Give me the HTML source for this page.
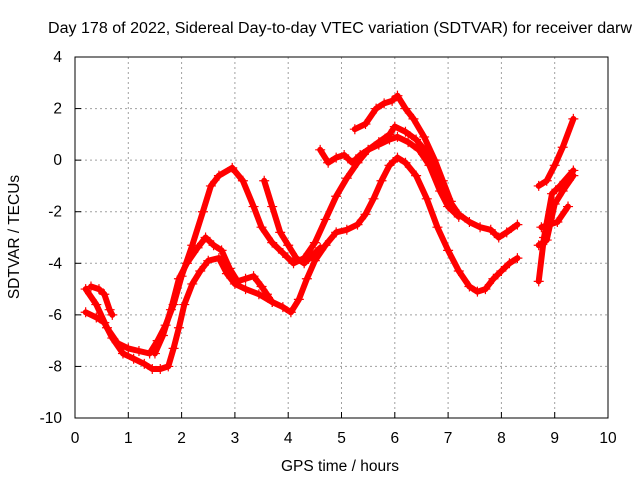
<!DOCTYPE html>
<html><head><meta charset="utf-8"><style>
body{margin:0;background:#fff}
svg text{font-family:"Liberation Sans",sans-serif;font-size:15.5px;fill:#000}
</style></head><body>
<svg id="chart" width="640" height="480" xmlns="http://www.w3.org/2000/svg">
<rect width="640" height="480" fill="#fff"/>
<text x="340" y="33" text-anchor="middle" textLength="584" lengthAdjust="spacingAndGlyphs">Day 178 of 2022, Sidereal Day-to-day VTEC variation (SDTVAR) for receiver darw</text>
<g id="grid"></g>
<g id="ticks"></g>
<rect x="75" y="57" width="533" height="361" fill="none" stroke="#000" stroke-width="1"/>
<g id="series"></g>
<text x="340" y="471" text-anchor="middle">GPS time / hours</text>
<text transform="translate(19,237) rotate(-90)" text-anchor="middle">SDTVAR / TECUs</text>
</svg>
<script>
const xTicks=[0,1,2,3,4,5,6,7,8,9,10];
const yTicks=[4,2,0,-2,-4,-6,-8,-10];
const seriesA=[[0.2,-5.0],[0.4,-5.6],[0.6,-6.5],[0.8,-7.1],[1.0,-7.3],[1.2,-7.4],[1.4,-7.5],[1.55,-7.0],[1.7,-6.4],[1.85,-5.6],[2.0,-4.5],[2.2,-3.3],[2.4,-2.0],[2.55,-1.0],[2.7,-0.6],[2.95,-0.3],[3.15,-0.8],[3.35,-1.8],[3.5,-2.6],[3.7,-3.2],[3.9,-3.6],[4.1,-4.0],[4.3,-3.8],[4.5,-3.2],[4.7,-2.3],[4.9,-1.4],[5.1,-0.7],[5.3,-0.1],[5.5,0.4],[5.7,0.7],[5.9,1.0],[6.0,1.3],[6.2,1.1],[6.4,0.8],[6.6,0.3],[6.8,-0.6],[7.0,-1.5],[7.2,-2.1],[7.4,-2.4],[7.6,-2.6],[7.8,-2.7],[7.95,-3.0],[8.1,-2.8],[8.3,-2.5]];
const seriesB=[[0.2,-5.9],[0.4,-6.1],[0.55,-6.3],[0.7,-6.9],[0.9,-7.5],[1.1,-7.7],[1.3,-7.9],[1.45,-8.1],[1.6,-8.1],[1.75,-8.0],[1.85,-7.3],[1.95,-6.5],[2.05,-5.6],[2.2,-4.8],[2.35,-4.3],[2.5,-3.9],[2.7,-3.8],[2.85,-4.4],[3.0,-4.8],[3.2,-5.0],[3.45,-5.2],[3.7,-5.5],[3.9,-5.7],[4.05,-5.9],[4.2,-5.4],[4.35,-4.6],[4.5,-3.9],[4.7,-3.3],[4.9,-2.8],[5.1,-2.7],[5.3,-2.5],[5.45,-2.1],[5.6,-1.5],[5.75,-0.8],[5.9,-0.2],[6.05,0.1],[6.2,-0.1],[6.4,-0.6],[6.6,-1.5],[6.8,-2.6],[7.0,-3.5],[7.2,-4.3],[7.4,-4.9],[7.55,-5.1],[7.7,-5.0],[7.85,-4.6],[8.0,-4.3],[8.15,-4.0],[8.3,-3.8]];
const seriesC=[[0.3,-4.9],[0.45,-5.0],[0.55,-5.2],[0.65,-5.8],[0.7,-6.0]];
const seriesD=[[1.5,-7.5],[1.65,-6.8],[1.8,-5.8],[1.95,-4.6],[2.1,-4.0],[2.3,-3.4],[2.45,-3.0],[2.6,-3.3],[2.75,-3.5],[2.9,-4.2],[3.05,-4.7],[3.2,-4.6],[3.35,-4.5],[3.5,-4.9],[3.6,-5.2],[3.7,-5.5]];
const seriesE=[[3.55,-0.8],[3.7,-1.8],[3.85,-2.8],[4.0,-3.3],[4.15,-3.8],[4.3,-4.0],[4.45,-3.7],[4.6,-3.4]];
const seriesF=[[4.6,0.4],[4.75,-0.1],[4.9,0.1],[5.05,0.2],[5.2,-0.1],[5.35,0.2],[5.5,0.4],[5.7,0.6],[5.9,0.8],[6.05,0.9],[6.25,0.7],[6.45,0.4],[6.65,-0.2],[6.85,-1.2],[7.0,-1.8],[7.2,-2.2]];
const seriesG=[[5.25,1.2],[5.45,1.4],[5.65,2.0],[5.8,2.2],[5.95,2.3],[6.05,2.5],[6.2,2.0],[6.35,1.6],[6.55,0.9],[6.75,0.0],[6.9,-0.8],[7.05,-1.6]];
const seriesH=[[8.7,-1.0],[8.85,-0.8],[9.0,-0.2],[9.15,0.5],[9.35,1.6]];
const seriesI=[[8.7,-3.3],[8.85,-3.1],[9.0,-1.7],[9.15,-1.2],[9.35,-0.6]];
const seriesJ=[[8.7,-4.7],[8.8,-3.0],[8.95,-1.3],[9.1,-1.0],[9.35,-0.4]];
const seriesK=[[8.75,-2.6],[8.9,-2.5],[9.05,-2.4],[9.25,-1.8]];
const allSeries=[seriesA,seriesB,seriesC,seriesD,seriesE,seriesF,seriesG,seriesH,seriesI,seriesJ,seriesK];
const NS='http://www.w3.org/2000/svg';
function X(h){return 75+h*53.3;}
function Y(v){return 57+(4-v)*25.786;}
function mk(tag,attrs,parent){const e=document.createElementNS(NS,tag);for(const k in attrs)e.setAttribute(k,attrs[k]);parent.appendChild(e);return e;}
const grid=document.getElementById('grid'),ticks=document.getElementById('ticks'),ser=document.getElementById('series');
xTicks.forEach(t=>{
 if(t>0&&t<10){const g=mk('line',{x1:X(t),x2:X(t),y1:57,y2:418,stroke:'#a0a0a0','stroke-dasharray':'2,3'},grid);
 
 }
 const l=mk('line',{x1:X(t),x2:X(t),y1:418,y2:412,stroke:'#000'},ticks);
 
 
 const tx=mk('text',{x:X(t),y:443,'text-anchor':'middle'},ticks);tx.textContent=t;
 
 
});
yTicks.forEach(t=>{
 if(t<4&&t>-10){const g=mk('line',{x1:75,x2:608,y1:Y(t),y2:Y(t),stroke:'#a0a0a0','stroke-dasharray':'2,3'},grid);
 
 }
 const l=mk('line',{x1:75,x2:81,y1:Y(t),y2:Y(t),stroke:'#000'},ticks);
 
 
 const tx=mk('text',{x:62,y:Y(t)+5,'text-anchor':'end'},ticks);tx.textContent=t;
 
 
});
allSeries.forEach((s,i)=>{
 const g=mk('g',{},ser);
 
 
 const pts=s.map(p=>X(p[0]).toFixed(1)+','+Y(p[1]).toFixed(1)).join(' ');
 mk('polyline',{points:pts,fill:'none',stroke:'#f00','stroke-width':6,'stroke-linejoin':'round','stroke-linecap':'round'},g);
 s.forEach(p=>{const x=X(p[0]),y=Y(p[1]);
  const m=mk('path',{d:`M${x-5},${y}H${x+5}M${x},${y-5}V${y+5}`,stroke:'#f00','stroke-width':1.2},g);
  
  });
});
</script>
</body></html>
